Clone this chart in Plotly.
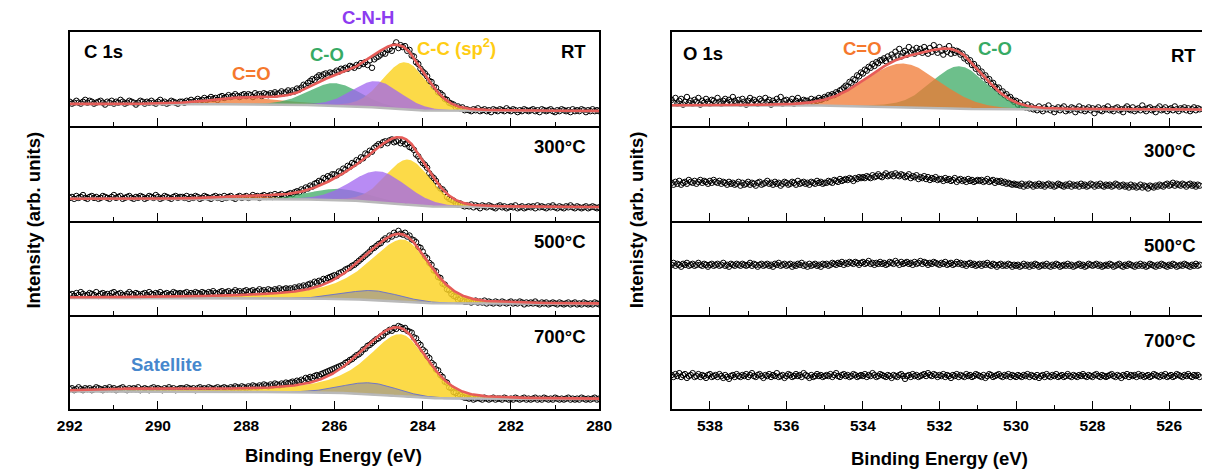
import numpy as np
import plotly.graph_objects as go

W, H = 1215, 470
FONT = "Liberation Sans, Arial, sans-serif"

# ---------------- measured spectra (arb. units) ----------------
# C 1s: 292.00 eV -> 280.00 eV, 0.05 eV steps
C1S_START, C1S_STEP = 292.0, 0.05
c1s_rt = [26, 24, 25, 27, 25, 24, 26, 28, 25, 27, 26, 24, 25, 26, 27, 25, 23, 26, 25, 27, 24, 26, 25, 28, 26, 24, 25, 27, 26, 25,
          23, 25, 27, 26, 24, 26, 25, 27, 25, 24, 26, 28, 25, 26, 24, 25, 27, 26, 25, 24, 26,
          26, 25, 27, 26, 28, 26, 27, 29, 27, 28, 30, 28, 29, 31, 29, 30, 28, 31, 32, 30, 31, 33, 31, 32, 34, 32, 31, 33, 34, 32,
          34, 33, 31, 35, 33, 34, 32, 35, 34, 33, 35, 34, 36, 34, 35, 37, 35, 36, 38,
          36, 38, 37, 40, 39, 41, 44, 43, 46, 48, 50, 49, 52, 54, 53, 55, 56, 54, 57, 56,
          57, 59, 58, 61, 60, 62, 61, 64, 63, 62, 65, 64, 67, 66, 68, 65, 70, 62, 71, 73,
          74, 76, 78, 77, 81, 82, 80, 85, 89, 83, 86, 84, 85, 80, 81, 75, 74, 68, 66, 61,
          58, 56, 53, 48, 47, 42, 41, 36, 35, 33, 29, 28, 25, 24, 23, 20, 21, 19, 20, 17,
          18, 17, 16, 18, 17, 19, 16, 17, 18, 16, 17, 15, 18, 17, 16, 18, 17, 16, 19, 17, 16, 18, 17, 15, 17, 16, 18, 17, 16, 17,
          18, 16, 17, 15, 18, 17, 16, 17, 18, 16, 15, 17, 16, 18, 17, 16, 17, 15, 18, 16, 17, 16, 18, 17, 15, 17, 16, 18, 16, 17, 16]
c1s_300 = [24, 25, 23, 26, 24, 25, 27, 24, 23, 25, 26, 24, 25, 23, 24, 26, 25, 24, 23, 25, 27, 24, 25, 26, 23, 24, 25, 26, 24, 23,
           25, 24, 26, 25, 23, 24, 26, 25, 24, 27, 25, 23, 24, 26, 25, 24, 23, 25, 26, 24, 25,
           25, 24, 26, 23, 25, 24, 26, 25, 23, 24, 26, 25, 24, 23, 25, 26, 24, 25, 23, 26, 24, 25, 26, 24, 23, 25, 26, 24, 25, 26,
           24, 25, 27, 25, 26, 24, 26, 27, 25, 26, 27, 25, 28, 26, 27, 28, 26, 27, 28,
           29, 28, 30, 31, 30, 33, 32, 35, 34, 37, 36, 39, 40, 42, 41, 45, 44, 47, 46, 49,
           49, 48, 52, 51, 55, 54, 58, 57, 61, 60, 64, 63, 67, 66, 71, 70, 74, 73, 77, 79,
           81, 80, 83, 84, 82, 85, 86, 83, 84, 85, 82, 84, 81, 82, 78, 77, 75, 70, 68, 64,
           61, 59, 56, 50, 47, 45, 42, 37, 34, 33, 30, 25, 23, 22, 21, 18, 17, 18, 16, 15,
           16, 15, 17, 14, 16, 15, 13, 16, 15, 14, 16, 15, 14, 13, 15, 16, 14, 15, 13, 14, 15, 14, 16, 13, 14, 15, 13, 14, 15, 14,
           15, 13, 16, 14, 15, 14, 13, 15, 14, 16, 14, 13, 15, 14, 13, 15, 14, 16, 14, 13, 15, 14, 13, 14, 15, 13, 14, 15, 14, 13, 14]
c1s_500 = [21, 22, 20, 23, 21, 24, 22, 20, 21, 23, 22, 21, 24, 20, 22, 23, 21, 22, 20, 23, 24, 21, 22, 23, 21, 20, 22, 24, 22, 21,
           23, 22, 20, 22, 23, 21, 24, 22, 21, 23, 22, 24, 21, 22, 23, 21, 22, 24, 23, 22, 23,
           22, 23, 24, 21, 23, 22, 24, 23, 22, 24, 23, 22, 24, 23, 25, 23, 22, 24, 25, 23, 24, 25, 23, 24, 26, 24, 25, 23, 25, 26,
           24, 25, 26, 24, 25, 27, 25, 26, 24, 27, 26, 25, 27, 26, 28, 26, 27, 28, 27,
           28, 27, 29, 28, 30, 29, 31, 30, 32, 33, 32, 35, 34, 36, 35, 38, 37, 39, 40, 41,
           42, 41, 44, 45, 46, 48, 49, 50, 52, 53, 55, 57, 59, 61, 63, 65, 67, 70, 71, 73,
           75, 76, 79, 81, 80, 84, 83, 87, 85, 89, 86, 85, 87, 83, 84, 80, 79, 77, 72, 71,
           67, 62, 60, 55, 53, 47, 46, 40, 39, 33, 32, 27, 26, 22, 20, 19, 16, 17, 15, 14,
           14, 15, 13, 14, 15, 13, 14, 13, 15, 12, 14, 13, 12, 14, 13, 12, 14, 13, 12, 13, 14, 12, 13, 12, 14, 13, 11, 13, 12, 13,
           12, 14, 12, 11, 13, 12, 13, 11, 12, 13, 12, 11, 13, 12, 11, 12, 13, 11, 12, 13, 11, 12, 11, 13, 12, 11, 12, 11, 13, 12, 11]
c1s_700 = [21, 22, 20, 21, 23, 21, 20, 22, 21, 22, 20, 21, 23, 22, 21, 20, 22, 21, 23, 21, 22, 20, 21, 22, 23, 21, 20, 22, 21, 22,
           21, 23, 20, 21, 22, 21, 20, 22, 23, 21, 22, 21, 20, 22, 21, 23, 21, 22, 20, 21, 22,
           22, 21, 23, 22, 21, 22, 20, 22, 23, 21, 22, 21, 23, 22, 21, 22, 23, 21, 22, 23, 22, 21, 23, 22, 24, 23, 22, 24, 23, 22,
           24, 23, 25, 24, 23, 25, 24, 26, 25, 24, 26, 25, 27, 26, 25, 27, 26, 28, 27,
           28, 29, 28, 30, 29, 31, 30, 33, 32, 34, 33, 35, 36, 35, 37, 38, 39, 40, 41, 42,
           43, 44, 45, 46, 47, 49, 50, 52, 53, 55, 57, 58, 60, 63, 64, 67, 68, 70, 72, 74,
           75, 77, 78, 81, 82, 84, 83, 86, 85, 88, 87, 85, 86, 83, 82, 81, 76, 75, 70, 68,
           63, 61, 56, 54, 49, 47, 42, 41, 36, 34, 29, 28, 23, 22, 18, 17, 14, 15, 13, 12,
           12, 11, 12, 10, 11, 12, 11, 10, 12, 11, 10, 11, 12, 10, 11, 11, 10, 12, 11, 10, 11, 10, 12, 11, 10, 11, 12, 10, 11, 10,
           11, 12, 10, 11, 10, 12, 11, 10, 11, 10, 12, 11, 10, 11, 10, 11, 12, 10, 11, 10, 11, 10, 12, 11, 10, 11, 10, 11, 12, 10, 11]

# O 1s: 539.00 eV -> 525.20 eV, 0.05 eV steps
O1S_START, O1S_STEP = 539.0, 0.05
o1s_rt = [28, 25, 30, 24, 27, 29, 23, 26, 31, 25, 27, 24, 28, 26, 30, 23, 27, 25, 29, 26, 24, 28, 27, 25, 30, 26, 24, 27, 29, 25,
          28, 26, 31, 27, 25, 28, 24, 29, 26, 23, 27, 30, 25, 28, 26, 24, 29, 27, 25, 30, 26, 28, 23, 27, 25, 29, 26, 31, 24, 27,
          28, 25, 26, 29, 24, 27, 30, 26, 25, 28, 27,
          27, 25, 29, 26, 28, 27, 30, 28, 29, 31, 30, 33, 32, 34, 33, 36, 35, 38, 39,
          41, 43, 42, 47, 46, 50, 49, 54, 53, 57, 56, 60, 59, 63, 62, 66, 64, 68, 67, 70,
          70, 72, 69, 74, 71, 76, 73, 79, 75, 82, 74, 78, 80, 76, 84, 78, 81, 77, 83, 79,
          82, 78, 84, 80, 77, 83, 79, 86, 81, 78, 84, 80, 76, 82, 79, 85, 77, 81, 78, 80,
          79, 76, 77, 72, 73, 69, 70, 65, 66, 61, 62, 57, 58, 53, 54, 49, 50, 45, 46, 42,
          40, 41, 36, 37, 33, 34, 30, 31, 28, 26, 27, 23, 25, 21, 22, 20, 23, 19, 21, 18,
          19, 17, 21, 18, 16, 20, 18, 22, 17, 19, 15, 18, 20, 17, 19, 21, 16, 18, 17, 20, 19, 15, 18, 21, 17, 19, 16, 18, 20, 17,
          19, 14, 18, 20, 17, 16, 19, 18, 21, 17, 18, 16, 19, 20, 17, 18, 15, 19, 21, 18, 17, 20, 16, 18, 19, 17, 22, 18, 16, 19,
          20, 17, 18, 15, 19, 21, 17, 18, 20, 16, 18, 19, 17, 21, 18, 16, 19, 18, 20, 17, 19, 16, 18, 20, 17, 19, 18]
o1s_300 = [40, 38, 41, 39, 42, 38, 40, 41, 39, 43, 41, 40, 42, 39, 41, 43, 40, 42, 41, 39, 42, 40, 43, 41, 40, 42, 39, 41, 40, 38,
           41, 39, 40, 38, 39, 41, 37, 40, 38, 39, 41, 38, 40, 39, 37, 40, 41, 38, 39, 40, 42, 39, 40, 38, 41, 39, 40, 37, 39, 41,
           40, 38, 39, 41, 40, 38, 42, 39, 40, 41, 39, 40, 38, 41, 40, 39, 42, 40, 41, 39, 40,
           40, 42, 41, 40, 43, 42, 41, 44, 42, 43, 44, 43, 45, 44, 42, 45, 44, 46, 45, 46,
           45, 47, 46, 45, 48, 46, 47, 49, 47, 46, 48, 50, 47, 48, 49, 47, 50, 48, 47, 49,
           48, 46, 47, 49, 45, 47, 46, 48, 44, 46, 45, 47, 44, 46, 43, 45, 44, 46, 43, 44,
           44, 42, 45, 43, 44, 42, 43, 45, 41, 43, 44, 42, 43, 41, 44, 42, 43, 41, 42, 43,
           42, 43, 41, 42, 44, 41, 42, 43, 40, 42, 41, 42, 40, 41, 39, 40, 39, 38, 39, 38,
           38, 37, 39, 36, 38, 37, 39, 38, 36, 38, 37, 39, 37, 38, 36, 38, 39, 37, 38, 36, 37, 39, 38, 37, 36, 38, 37, 39, 36, 38,
           37, 38, 36, 39, 37, 38, 36, 37, 39, 38, 36, 38, 37, 39, 37, 36, 38, 37, 38, 36, 37, 39, 38, 36, 37, 38, 36, 37, 35, 38,
           36, 37, 35, 36, 38, 35, 37, 36, 34, 37, 36, 35, 37, 36, 38, 37, 36, 38, 39, 37, 38, 40, 37, 39, 38, 37, 39, 38, 36, 38,
           39, 37, 38, 36, 38, 37]
o1s_500 = [53, 55, 52, 54, 53, 51, 54, 53, 55, 52, 53, 54, 52, 53, 55, 53, 52, 54, 53, 51, 53, 54, 52, 53, 54, 52, 53, 55, 52, 53,
           51, 54, 53, 52, 54, 53, 52, 54, 53, 52, 53, 55, 52, 54, 53, 51, 53, 54, 52, 53, 54, 52, 53, 51, 54, 53, 55, 52, 53, 54,
           52, 53, 54, 51, 53, 52, 54, 53, 55, 52, 53, 51, 54, 52, 53, 54, 52, 53, 51, 54, 53,
           54, 52, 53, 55, 54, 53, 55, 54, 56, 53, 55, 54, 56, 55, 54, 56, 55, 53, 55, 56, 54, 55, 57, 54, 55, 53, 55, 54, 56, 54,
           55, 53, 54, 56, 55, 54, 57, 55, 53, 56, 54, 55, 56, 54, 55, 53, 56, 54, 55, 57, 54, 56, 55, 53, 55, 54, 56, 55, 54, 53,
           55, 54, 56, 53, 54, 55, 53, 54, 56, 54, 55, 53, 54, 52, 54, 55, 53, 54, 52, 53, 54, 52, 54, 53, 55, 53, 52, 54, 53, 51,
           53, 54, 52, 53, 52, 54, 53, 51, 53, 52,
           53, 51, 52, 54, 52, 53, 51, 53, 52, 54, 53, 51, 52, 53, 52, 54, 52, 51, 53, 52, 54, 53, 51, 52, 53, 52, 54, 52, 53, 51,
           52, 53, 54, 52, 53, 51, 52, 54, 53, 52, 53, 54, 52, 53, 51, 52, 53, 52, 54, 53, 51, 52, 53, 54, 52, 51, 53, 52, 54, 53,
           52, 51, 53, 52, 54, 52, 53, 51, 52, 54, 53, 52, 51, 53, 52, 54, 53, 52, 51, 53, 52, 54, 53, 51, 52, 53, 52, 54, 53, 52,
           51, 53, 52, 54, 52, 53]
o1s_700 = [36, 34, 37, 35, 38, 34, 36, 37, 33, 35, 36, 38, 34, 35, 37, 34, 36, 35, 33, 36, 37, 34, 35, 36, 34, 37, 35, 33, 36, 34,
           32, 35, 36, 34, 37, 35, 34, 36, 35, 37, 34, 36, 38, 35, 34, 36, 37, 35, 33, 36, 35, 37, 34, 36, 35, 38, 34, 35, 36, 33,
           35, 37, 36, 34, 35, 37, 35, 36, 34, 38, 36, 35, 33, 36, 34, 35, 37, 35, 36, 34, 35,
           36, 35, 37, 34, 36, 38, 35, 34, 36, 37, 35, 36, 34, 35, 37, 36, 34, 35, 36, 35, 37, 34, 36, 35, 38, 36, 34, 35, 37, 36,
           35, 34, 36, 35, 33, 36, 35, 34, 36, 37, 35, 32, 35, 36, 34, 37, 35, 36, 34, 35, 36, 37, 35, 38, 36, 35, 37, 36, 34, 36,
           35, 37, 34, 36, 35, 33, 36, 35, 37, 34, 36, 35, 34, 37, 35, 36, 34, 35, 37, 36, 35, 34, 36, 33, 35, 37, 36, 34, 35, 36,
           37, 35, 34, 36, 35, 37, 34, 36, 35, 34,
           36, 35, 34, 36, 35, 37, 34, 36, 35, 34, 36, 33, 35, 36, 34, 37, 35, 34, 36, 35, 37, 34, 35, 36, 34, 35, 37, 35, 34, 36,
           35, 34, 36, 35, 37, 35, 34, 36, 35, 34, 36, 37, 35, 34, 36, 35, 34, 35, 36, 37, 35, 34, 36, 35, 33, 36, 35, 37, 34, 36,
           35, 36, 34, 37, 35, 36, 34, 35, 36, 34, 35, 37, 36, 35, 34, 36, 35, 37, 34, 35, 36, 34, 35, 37, 36, 35, 34, 36, 35, 37,
           35, 34, 36, 35, 36, 34]

# ---------------- fitted components ----------------
# (component, centre eV, half-width low-BE side, half-width high-BE side, height, Lorentz fraction low, Lorentz fraction high)
c1s_rt_peaks = [("C=O", 287.9, 1.0, 1.0, 7, 0.15, 0.15),
                ("C-O", 286.0, 0.7, 0.7, 24, 0.15, 0.15),
                ("C-C", 284.4, 0.6, 0.6, 50, 0.15, 0.15),
                ("C-N-H", 285.05, 0.65, 0.65, 28, 0.15, 0.15)]
c1s_300_peaks = [("C=O", 287.8, 0.8, 0.8, 3, 0.15, 0.15),
                 ("C-O", 285.9, 0.8, 0.8, 12, 0.15, 0.15),
                 ("C-C", 284.33, 0.6, 0.6, 48, 0.15, 0.15),
                 ("C-N-H", 285.0, 0.75, 0.75, 33, 0.15, 0.15)]
c1s_500_peaks = [("C-C", 284.45, 0.72, 0.95, 66, 0.3, 0.8),
                 ("defect", 285.15, 0.75, 0.75, 10, 0.15, 0.15)]
c1s_700_peaks = [("Satellite", 290.0, 1.25, 1.25, 2.5, 0.15, 0.15),
                 ("C-C", 284.5, 0.72, 0.9, 66, 0.3, 0.8),
                 ("defect", 285.2, 0.75, 0.75, 12, 0.15, 0.15)]
o1s_rt_peaks = [("C-O", 531.48, 0.85, 0.85, 45, 0.15, 0.15),
                ("C=O", 532.96, 1.15, 1.15, 46, 0.15, 0.15)]

# Shirley background end levels: (low-BE side, high-BE side)
c1s_rt_bg = (16.0, 23.5)
c1s_300_bg = (14.0, 23.0)
c1s_500_bg = (11.5, 17.8)
c1s_700_bg = (10.5, 18.7)
o1s_rt_bg = (17.5, 22.0)

C1S_RANGE = (292.0, 280.0)
O1S_RANGE = (539.0, 525.14)
C1S_TICKS = [292, 290, 288, 286, 284, 282, 280]
C1S_MINOR = [291, 289, 287, 285, 283, 281]
O1S_TICKS = [538, 536, 534, 532, 530, 528, 526]
O1S_MINOR = [539, 537, 535, 533, 531, 529, 527]

# ---------------- styles ----------------
FILL = {"C=O": "rgba(240,120,50,0.75)", "C-O": "rgba(60,170,100,0.75)",
        "C-C": "rgba(252,212,40,0.85)", "C-N-H": "rgba(160,100,240,0.75)",
        "defect": "rgba(120,125,175,0.5)", "Satellite": "rgba(80,130,210,0.55)"}
EDGE = {"defect": "rgba(100,110,210,0.9)", "Satellite": "rgba(70,120,210,0.9)"}
ENVELOPE = "rgb(230,92,88)"
BGLINE = "rgb(185,185,185)"
LABEL_SIZE = 18.5
TITLE_SIZE = 18.5
TICK_SIZE = 15.5


def component(E, c, hw_lo, hw_hi, h, eta_lo, eta_hi):
    d = E - c
    hw = np.where(d < 0, hw_lo, hw_hi)
    eta = np.where(d < 0, eta_lo, eta_hi)
    x2 = (d / hw) ** 2
    return h * ((1 - eta) * np.exp(-np.log(2) * x2) + eta / (1 + x2))


def shirley(E, total, low, high):
    cum = np.concatenate([[0.0], np.cumsum(0.5 * (total[1:] + total[:-1]) * np.diff(E))])
    return low + (high - low) * cum / cum[-1]


def px_x(x):
    return x / W


def px_y(y):
    return 1 - y / H


# panel geometry (pixels)
TOP, PANEL_H = 32.0, 94.25
LEFT_X = (58, 599)
RIGHT_X = (673, 1215)

panels = [
    # column, row, start, step, values, peaks, bg
    (0, 0, C1S_START, C1S_STEP, c1s_rt, c1s_rt_peaks, c1s_rt_bg),
    (0, 1, C1S_START, C1S_STEP, c1s_300, c1s_300_peaks, c1s_300_bg),
    (0, 2, C1S_START, C1S_STEP, c1s_500, c1s_500_peaks, c1s_500_bg),
    (0, 3, C1S_START, C1S_STEP, c1s_700, c1s_700_peaks, c1s_700_bg),
    (1, 0, O1S_START, O1S_STEP, o1s_rt, o1s_rt_peaks, o1s_rt_bg),
    (1, 1, O1S_START, O1S_STEP, o1s_300, None, None),
    (1, 2, O1S_START, O1S_STEP, o1s_500, None, None),
    (1, 3, O1S_START, O1S_STEP, o1s_700, None, None),
]

fig = go.Figure()
layout = {}

for k, (col, row, start, step, vals, peaks, bg) in enumerate(panels):
    sfx = "" if k == 0 else str(k + 1)
    xa, ya = "x" + sfx, "y" + sfx
    E_data = np.round(start - step * np.arange(len(vals)), 3)

    # measured points
    fig.add_trace(go.Scatter(x=E_data, y=vals, mode="markers", xaxis=xa, yaxis=ya,
                             marker=dict(symbol="circle-open", size=5.5, color="black",
                                         line=dict(width=1, color="black")),
                             showlegend=False, hoverinfo="skip"))

    if peaks:
        lo, hi = (C1S_RANGE[1], C1S_RANGE[0]) if col == 0 else (O1S_RANGE[1], O1S_RANGE[0])
        E = np.linspace(lo, hi, 1200)
        comps = [component(E, *p[1:]) for p in peaks]
        total = np.sum(comps, axis=0)
        base = shirley(E, total, *bg)
        for p, comp in zip(peaks, comps):
            name = p[0]
            edge = EDGE.get(name)
            fig.add_trace(go.Scatter(
                x=np.concatenate([E, E[::-1]]),
                y=np.concatenate([base + comp, base[::-1]]),
                fill="toself", fillcolor=FILL[name], mode="lines",
                line=dict(width=1 if edge else 0, color=edge or "rgba(0,0,0,0)"),
                xaxis=xa, yaxis=ya, showlegend=False, hoverinfo="skip"))
        fig.add_trace(go.Scatter(x=E, y=base, mode="lines", xaxis=xa, yaxis=ya,
                                 line=dict(color=BGLINE, width=2.5),
                                 showlegend=False, hoverinfo="skip"))
        fig.add_trace(go.Scatter(x=E, y=base + total, mode="lines", xaxis=xa, yaxis=ya,
                                 line=dict(color=ENVELOPE, width=2.6),
                                 showlegend=False, hoverinfo="skip"))

    top = TOP + row * PANEL_H
    bot = top + PANEL_H
    xd = LEFT_X if col == 0 else RIGHT_X
    bottom_row = row == 3
    layout["xaxis" + sfx] = dict(
        domain=[px_x(xd[0]), px_x(xd[1])], anchor=ya,
        range=list(C1S_RANGE if col == 0 else O1S_RANGE),
        showline=True, mirror=(row == 0), linecolor="black", linewidth=1.6,
        showgrid=False, zeroline=False,
        ticks="inside", ticklen=8, tickwidth=1.4, tickcolor="black",
        tickvals=C1S_TICKS if col == 0 else O1S_TICKS,
        showticklabels=bottom_row, ticklabelstandoff=2,
        tickfont=dict(family=FONT, size=TICK_SIZE, color="black", weight="bold"),
        minor=dict(tickvals=C1S_MINOR if col == 0 else O1S_MINOR, ticks="inside",
                   ticklen=4, tickwidth=1.2, tickcolor="black", showgrid=False),
    )
    layout["yaxis" + sfx] = dict(
        domain=[px_y(bot), px_y(top)], anchor=xa, range=[0, 100],
        showline=True, mirror=(col == 0), linecolor="black", linewidth=1.6,
        showgrid=False, zeroline=False, ticks="", showticklabels=False,
    )

fig.update_layout(**layout)

# ---------------- text ----------------
ann = []


def label(text, x, y, color="black", size=LABEL_SIZE, anchor="center", angle=0):
    ann.append(dict(text=text, x=px_x(x), y=px_y(y), xref="paper", yref="paper",
                    xanchor=anchor, yanchor="middle", showarrow=False, textangle=angle,
                    font=dict(family=FONT, size=size, color=color)))


label("<b>C 1s</b>", 71, 52, anchor="left")
label("<b>RT</b>", 588, 52, anchor="right")
label("<b>300°C</b>", 588, 147, anchor="right")
label("<b>500°C</b>", 588, 242, anchor="right")
label("<b>700°C</b>", 588, 336, anchor="right")
label("<b>C=O</b>", 244, 73, color="rgb(245,120,45)")
label("<b>C-O</b>", 321, 54, color="rgb(55,170,100)")
label("<b>C-N-H</b>", 363, 17, color="rgb(140,60,240)")
label("<b>C-C (sp<sup>2</sup>)</b>", 453, 47, color="rgb(255,205,20)")
label("<b>Satellite</b>", 157, 364, color="rgb(70,135,205)")

label("<b>O 1s</b>", 683, 53, anchor="left")
label("<b>C=O</b>", 868, 49, color="rgb(245,120,45)")
label("<b>C-O</b>", 1003, 49, color="rgb(55,170,100)")
label("<b>RT</b>", 1211, 56, anchor="right")
label("<b>300°C</b>", 1211, 150, anchor="right")
label("<b>500°C</b>", 1211, 245, anchor="right")
label("<b>700°C</b>", 1211, 340, anchor="right")

label("<b>Binding Energy (eV)</b>", 328, 455, size=TITLE_SIZE)
label("<b>Binding Energy (eV)</b>", 947, 458, size=TITLE_SIZE)
label("<b>Intensity (arb. units)</b>", 20, 220, size=TITLE_SIZE, angle=-90)
label("<b>Intenisty (arb. units)</b>", 637, 220, size=TITLE_SIZE, angle=-90)

fig.update_layout(
    width=W, height=H, margin=dict(l=0, r=0, t=0, b=0),
    paper_bgcolor="white", plot_bgcolor="white",
    showlegend=False, annotations=ann,
    font=dict(family=FONT, color="black"),
)

fig.write_html("out.html")
